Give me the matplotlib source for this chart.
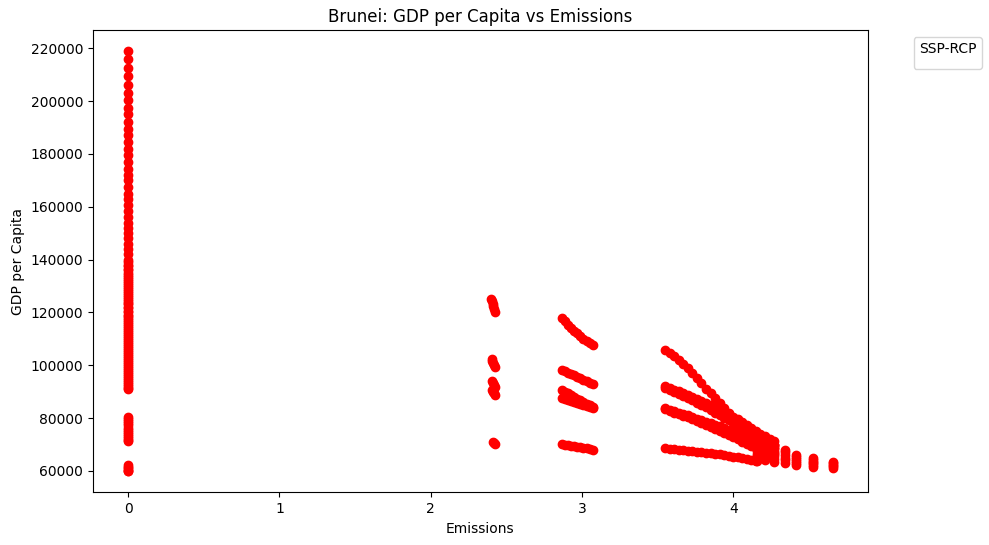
import matplotlib
matplotlib.use("Agg")
import matplotlib.pyplot as plt

# ---- data ----
zero_y = [219000, 216000, 212500, 209500, 206000, 203000, 200500, 197500, 195000, 192000,
          189500, 187000, 184500, 182000, 179500, 177000, 174500, 172000, 170000, 167500,
          165000, 163000, 160500, 158500, 156000, 154000, 152000, 150000, 148000, 146000,
          144000, 142000, 140000, 138000, 136500, 135000, 133500, 132000, 130500, 129000,
          127500, 126000, 124500, 123000, 121500, 120000, 118500, 117000, 115500, 114000,
          112500, 111000, 109500, 108000, 106500, 105000, 103500, 102000, 100500, 99000,
          97500, 96000, 94500, 93000, 91500,
          80300, 79500, 78700, 78000, 77200, 76400, 75600, 74800, 74000, 73200, 72400,
          71600, 71200,
          62100, 61500, 61000, 60500, 60000, 59800]
zero_y2 = [139000, 137700, 136000, 134200, 132700, 131200, 129700, 128200, 126700, 125200,
           123700, 122200, 120700, 119200, 117700, 116200, 114700, 113200, 111700, 110200,
           108700, 107200, 105700, 104200, 102700, 101200, 99700, 98200, 96700, 95200,
           93700, 92200, 91000]

g242_x = [2.400, 2.405, 2.410, 2.415, 2.420, 2.425,
          2.405, 2.408, 2.412, 2.420, 2.428,
          2.405, 2.410, 2.420, 2.425, 2.405, 2.410, 2.420, 2.428,
          2.410, 2.420, 2.428]
g242_y = [125000, 124200, 123300, 122300, 121200, 120100,
          102200, 101500, 100700, 99900, 99300,
          94200, 93300, 92400, 91700, 90800, 89900, 89300, 88700,
          70800, 70500, 70300]

mid_x = [2.87, 2.89, 2.91, 2.93, 2.95, 2.97, 2.99, 3.01, 3.03, 3.05, 3.07]
mid_a = [117900, 116600, 115300, 114200, 113100, 112100, 111100, 110100, 109200, 108300, 107500]
mid_b = [98300, 97800, 97200, 96700, 96200, 95700, 95100, 94500, 94000, 93400, 92900]
mid_c1 = [90700, 90000, 89300, 88600, 88000, 87400, 86700, 86100, 85500, 84900, 84300]
mid_c2 = [87600, 87200, 86800, 86400, 86000, 85700, 85300, 85000, 84600, 84200, 83800]
mid_d = [70100, 69900, 69700, 69500, 69300, 69100, 68900, 68700, 68500, 68200, 68000]

hi_x = [3.55, 3.58, 3.61, 3.64, 3.67, 3.70, 3.73, 3.76, 3.79, 3.82, 3.85, 3.88, 3.91,
        3.94, 3.97, 4.00, 4.03, 4.06, 4.09, 4.12, 4.15, 4.18, 4.21, 4.24, 4.27]
hi_1 = [105900, 104700, 103400, 101900, 100300, 98800, 97000, 95100, 93100, 91100, 89300,
        87500, 85600, 83800, 81800, 80000, 78300, 76600, 75300, 74000, 72900, 72000, 71100,
        70400, 69800]
hi_2 = [92000, 91400, 90800, 90200, 89500, 88800, 88000, 87300, 86500, 85700, 84800, 84000,
        83100, 82200, 81400, 80500, 79500, 78500, 77400, 76300, 75200, 74100, 73100, 72100,
        71200]
hi_2b = [91500, 90700, 89900, 89100, 88300, 87500, 86700, 85800, 84900, 84000, 83100, 82100,
         81100, 80100, 79200, 78200, 77200, 76200, 75200, 74200, 73200, 72300, 71400, 70500,
         69700]
hi_3 = [83800, 83200, 82700, 82100, 81500, 81000, 80400, 79800, 79200, 78600, 78000, 77400,
        76800, 76200, 75600, 74900, 74200, 73500, 72800, 72100, 71400, 70700, 70000, 69300,
        68700]
hi_3b = [83300, 82700, 82100, 81500, 80900, 80300, 79600, 78900, 78200, 77500, 76700, 75900,
         75100, 74300, 73500, 72700, 71900, 71100, 70300, 69500, 68800, 68100, 67400, 66800,
         66200]
lo_x = [3.55, 3.58, 3.61, 3.64, 3.67, 3.70, 3.73, 3.76, 3.79, 3.82, 3.85, 3.88, 3.91, 3.94,
        3.97, 4.00, 4.03, 4.06, 4.09, 4.12, 4.15]
lo_y = [68500, 68300, 68100, 67950, 67800, 67650, 67500, 67300, 67100, 66900, 66700, 66450,
        66200, 65950, 65700, 65400, 65100, 64800, 64500, 64200, 63900]

stack_x = [4.16] * 10 + [4.21] * 7 + [4.27] * 7 + [4.344] * 6 + [4.417] * 6 + [4.53] * 6 + [4.657] * 5
stack_y = [72500, 71500, 70500, 69500, 68500, 67500, 66500, 65500, 64500, 63600,
           71800, 70500, 69200, 67900, 66600, 65300, 64200,
           69900, 68800, 67700, 66600, 65500, 64400, 63400,
           68000, 67000, 66000, 65000, 64000, 63000,
           66100, 65300, 64500, 63700, 62900, 62300,
           64900, 64200, 63500, 62800, 62200, 61600,
           63400, 62800, 62300, 61700, 61100]

xs = ([0.0] * (len(zero_y) + len(zero_y2)) + g242_x + mid_x * 5 + hi_x * 5 + lo_x + stack_x)
ys = (zero_y + zero_y2 + g242_y + mid_a + mid_b + mid_c1 + mid_c2 + mid_d
      + hi_1 + hi_2 + hi_2b + hi_3 + hi_3b + lo_y + stack_y)

fig = plt.figure(figsize=(9.89, 5.45), dpi=100)
ax = fig.add_axes([0.094, 0.0965, 0.7835, 0.8485])
ax.scatter(xs, ys, c='red')
ax.set_title('Brunei: GDP per Capita vs Emissions')
ax.set_xlabel('Emissions')
ax.set_ylabel('GDP per Capita')
ax.legend(handles=[], title='SSP-RCP', bbox_to_anchor=(1.05, 1), loc='upper left')
fig.savefig('out.png', dpi=100)
